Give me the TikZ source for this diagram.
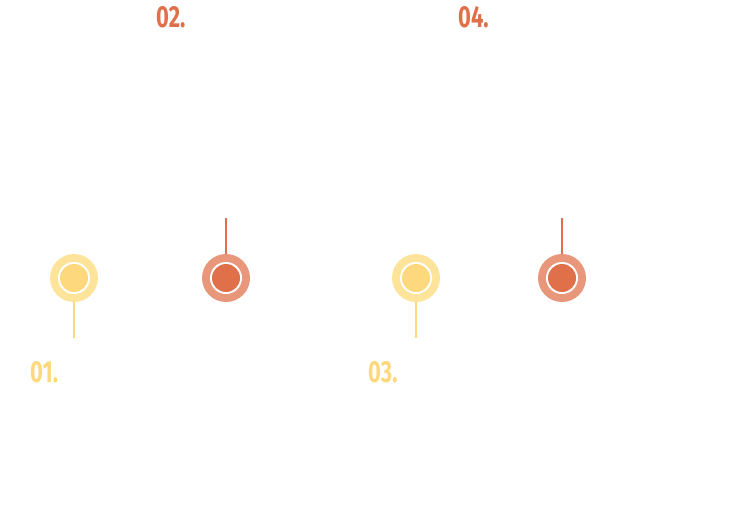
\documentclass[tikz,border=0pt]{standalone}
\usepackage{fontspec}
\setmainfont{Fira Sans}
\definecolor{sunOuter}{HTML}{FDE49A}
\definecolor{sunInner}{HTML}{FDD87C}
\definecolor{rustOuter}{HTML}{E8977A}
\definecolor{rustInner}{HTML}{E0704A}
\begin{document}
\begin{tikzpicture}[x=1pt,y=-1pt,
  dotouter/.style={circle,minimum size=48pt,inner sep=0pt},
  dotring/.style={circle,minimum size=32pt,inner sep=0pt,fill=white},
  dotinner/.style={circle,minimum size=28pt,inner sep=0pt},
  stem/.style={line width=1.6pt},
  steplabel/.style={anchor=base west,inner sep=0pt,font=\bfseries\fontsize{30.5}{30.5}\selectfont}]
\useasboundingbox (0,0) rectangle (746,528);
% marker dots
\foreach \n/\x/\c in {a/74/sun,b/226/rust,c/416/sun,d/562/rust}{
  \node[dotouter,fill=\c Outer] (\n) at (\x,278) {};
  \node[dotring] at (\n) {};
  \node[dotinner,fill=\c Inner] at (\n) {};
}
% stems
\coordinate (a1) at (74,338);
\coordinate (b1) at (226,218);
\coordinate (c1) at (416,338);
\coordinate (d1) at (562,218);
\draw[stem,sunInner] (a.south) -- (a1);
\draw[stem,rustInner] (b.north) -- (b1);
\draw[stem,sunInner] (c.south) -- (c1);
\draw[stem,rustInner] (d.north) -- (d1);
% step numbers
\node[steplabel,text=sunInner] (l1) at (30,382) {\scalebox{0.72}[1]{01.}};
\node[steplabel,text=rustInner] (l2) at (156,27) {\scalebox{0.72}[1]{02.}};
\node[steplabel,text=sunInner] (l3) at (368,382) {\scalebox{0.72}[1]{03.}};
\node[steplabel,text=rustInner] (l4) at (458,27) {\scalebox{0.72}[1]{04.}};
\end{tikzpicture}
\end{document}
